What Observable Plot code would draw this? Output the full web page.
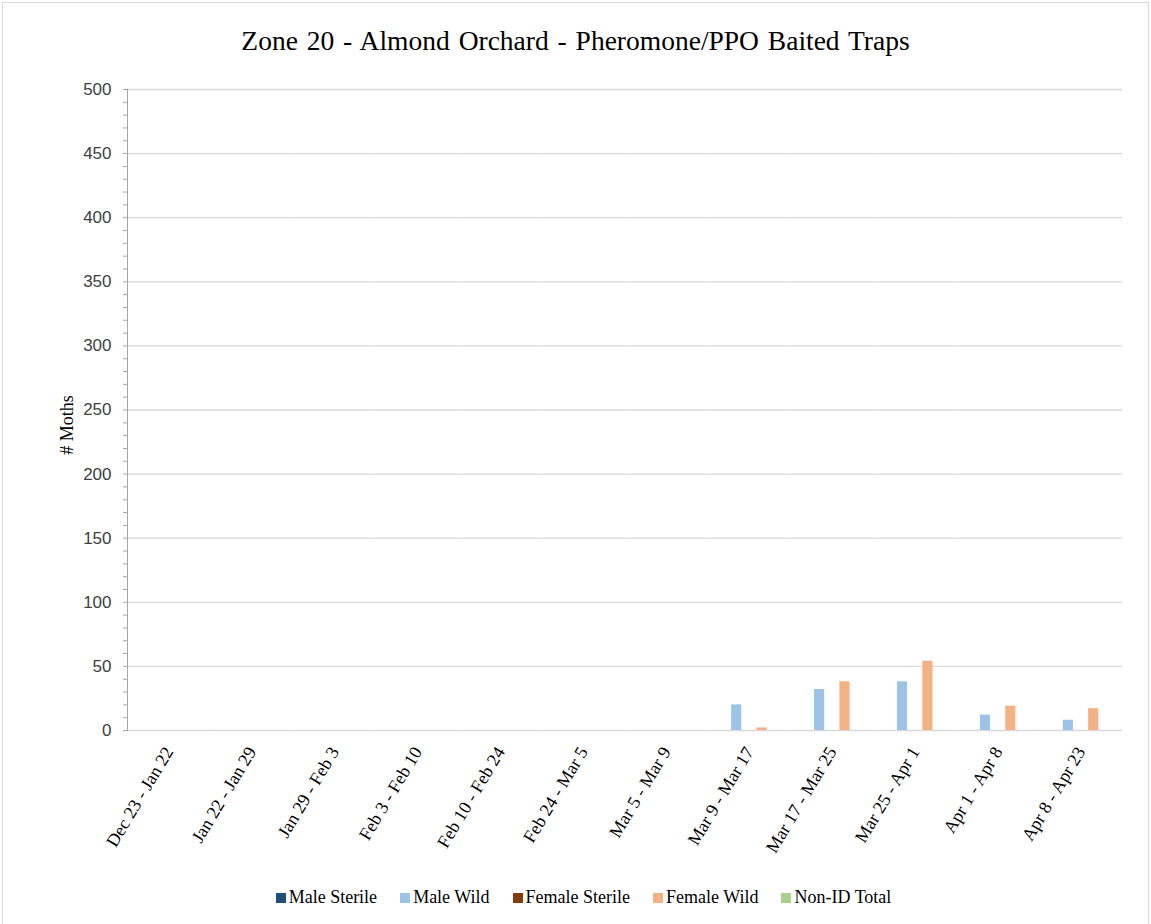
<!DOCTYPE html>
<html>
<head>
<meta charset="utf-8">
<script src="https://cdn.jsdelivr.net/npm/d3@7"></script>
<script src="https://cdn.jsdelivr.net/npm/@observablehq/plot@0.6"></script>
<style>
  html, body { margin: 0; padding: 0; background: #fff; }
  #wrap { position: relative; width: 1151px; height: 924px; overflow: hidden; }
  #border { position: absolute; left: 2px; top: 2px; width: 1147px; height: 924px; border: 1px solid #d9d9d9; box-sizing: border-box; }
  #title { position: absolute; left: 0; top: 25px; width: 1151px; text-align: center;
    font-family: "Liberation Serif", "Times New Roman", serif; font-size: 27.5px; color: #000; word-spacing: 2px; }
  #chart { position: absolute; left: 0; top: 70px; }
  #ylabel { position: absolute; left: 67px; top: 425px; transform: translate(-50%, -50%) rotate(-90deg);
    font-family: "Liberation Serif", serif; font-size: 18px; color: #000; white-space: nowrap; }
  #legend { position: absolute; left: 0; top: 887px; width: 1151px; display: flex; justify-content: center;
    font-family: "Liberation Serif", serif; font-size: 18px; color: #000; padding-left: 16px; box-sizing: border-box; }
  .item { display: flex; align-items: center; margin: 0 11.5px; }
  .sw { width: 10px; height: 10px; margin-right: 3px; }
</style>
</head>
<body>
<div id="wrap">
  <div id="border"></div>
  <div id="title">Zone 20 - Almond Orchard - Pheromone/PPO Baited Traps</div>
  <div id="chart"></div>
  <div id="ylabel"># Moths</div>
  <div id="legend"></div>
</div>
<script>
const categories = ["Dec 23 - Jan 22", "Jan 22 - Jan 29", "Jan 29 - Feb 3", "Feb 3 - Feb 10",
  "Feb 10 - Feb 24", "Feb 24 - Mar 5", "Mar 5 - Mar 9", "Mar 9 - Mar 17",
  "Mar 17 - Mar 25", "Mar 25 - Apr 1", "Apr 1 - Apr 8", "Apr 8 - Apr 23"];
const seriesNames = ["Male Sterile", "Male Wild", "Female Sterile", "Female Wild", "Non-ID Total"];
const seriesColors = ["#1f4e79", "#9dc3e6", "#843c0c", "#f4b183", "#a9d18e"];
const maleSterile   = [0, 0, 0, 0, 0, 0, 0, 0, 0, 0, 0, 0];
const maleWild      = [0, 0, 0, 0, 0, 0, 0, 20, 32, 38, 12, 8];
const femaleSterile = [0, 0, 0, 0, 0, 0, 0, 0, 0, 0, 0, 0];
const femaleWild    = [0, 0, 0, 0, 0, 0, 0, 2, 38, 54, 19, 17];
const nonIdTotal    = [0, 0, 0, 0, 0, 0, 0, 0, 0, 0, 0, 0];
const yTicks = [0, 50, 100, 150, 200, 250, 300, 350, 400, 450, 500];

const seriesValues = [maleSterile, maleWild, femaleSterile, femaleWild, nonIdTotal];
const data = [];
categories.forEach((c, i) => {
  seriesNames.forEach((s, j) => data.push({category: c, series: s, value: seriesValues[j][i]}));
});

const serif = "Liberation Serif, Times New Roman, serif";
const chart = Plot.plot({
  width: 1151,
  height: 800,
  marginTop: 19,
  marginBottom: 140,
  marginLeft: 127,
  marginRight: 29,
  fx: {domain: categories, padding: 0, round: false, label: null},
  x: {domain: seriesNames, paddingInner: 0.2, paddingOuter: 0.87, round: false, axis: null},
  y: {domain: [0, 500], label: null, axis: null},
  color: {domain: seriesNames, range: seriesColors},
  marks: [
    Plot.gridY(yTicks, {stroke: "#d9d9d9", strokeOpacity: 1, strokeWidth: 1.3}),
    Plot.axisY(d3.range(0, 501, 10), {tickSize: 4, tickFormat: () => "", stroke: "#a6a6a6", facetAnchor: "left"}),
    Plot.axisY(yTicks, {tickSize: 0, tickPadding: 16, fontSize: 17, fontFamily: "Liberation Sans, Arial, sans-serif", fill: "#404040", label: null, facetAnchor: "left"}),
    Plot.frame({anchor: "left", facetAnchor: "left", stroke: "#a6a6a6"}),
    Plot.barY(data, {fx: "category", x: "series", y: "value", fill: "series"}),
    Plot.axisFx({anchor: "bottom", tickSize: 0, tickRotate: -59, tickPadding: 18, fontSize: 18, fontFamily: serif, fill: "#000", label: null})
  ]
});
document.getElementById("chart").appendChild(chart);

const legend = document.getElementById("legend");
seriesNames.forEach((s, j) => {
  const it = document.createElement("div");
  it.className = "item";
  const sw = document.createElement("span");
  sw.className = "sw";
  sw.style.background = seriesColors[j];
  const tx = document.createElement("span");
  tx.textContent = s;
  it.appendChild(sw); it.appendChild(tx);
  legend.appendChild(it);
});
</script>
</body>
</html>
